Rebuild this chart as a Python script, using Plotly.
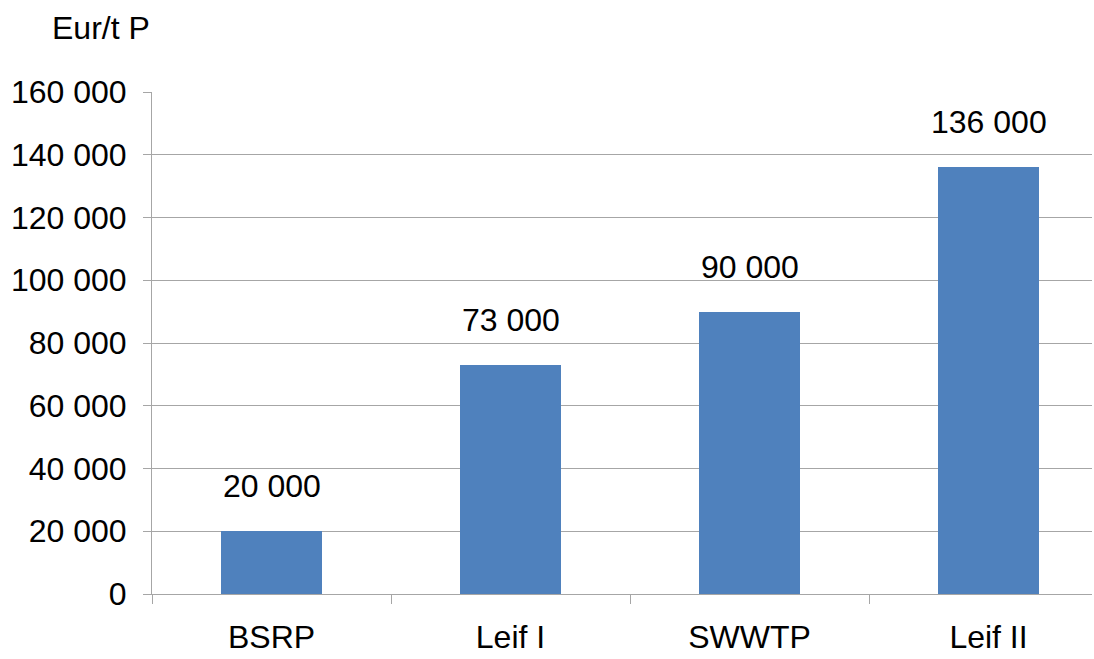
import plotly.graph_objects as go

# Cost per tonne of phosphorus for each treatment option
categories = ["BSRP", "Leif I", "SWWTP", "Leif II"]
values = [20000, 73000, 90000, 136000]
value_labels = ["20 000", "73 000", "90 000", "136 000"]

y_tickvals = [0, 20000, 40000, 60000, 80000, 100000, 120000, 140000, 160000]
y_ticktext = ["0", "20 000", "40 000", "60 000", "80 000", "100 000", "120 000", "140 000", "160 000"]

FONT = "Liberation Sans, Arial, sans-serif"
GRID = "#a6a6a6"
BAR = "#4f81bd"

W, H = 1094, 659
ML, MR, MT, MB = 152, 2, 92, 65

fig = go.Figure()
fig.add_trace(go.Bar(
    x=categories,
    y=values,
    width=0.42,
    marker=dict(color=BAR, line=dict(width=0)),
    hoverinfo="skip",
))

# value labels above each bar
for c, v, t in zip(categories, values, value_labels):
    fig.add_annotation(
        x=c, y=v, xref="x", yref="y",
        text=t, showarrow=False,
        yanchor="middle", yshift=45,
        font=dict(family=FONT, size=32, color="black"),
    )

# unit label above the value axis
fig.add_annotation(
    xref="paper", yref="paper",
    x=(50 - ML) / (W - ML - MR),
    y=1 + (MT - 28) / (H - MT - MB),
    text="Eur/t P", showarrow=False,
    xanchor="left", yanchor="middle",
    font=dict(family=FONT, size=32, color="black"),
)

fig.update_layout(
    width=W, height=H,
    margin=dict(l=ML, r=MR, t=MT, b=MB, autoexpand=False),
    paper_bgcolor="white", plot_bgcolor="white",
    showlegend=False,
    font=dict(family=FONT, size=32, color="black"),
    bargap=0,
)

fig.update_xaxes(
    type="category",
    range=[-0.5, 3.433],
    automargin=False,
    showline=True, linecolor=GRID, linewidth=1,
    ticks="outside", tickson="boundaries", ticklen=9, tickcolor=GRID, tickwidth=1,
    showgrid=False,
    tickfont=dict(family=FONT, size=32, color="black"),
    ticklabelstandoff=15,
)
fig.update_yaxes(
    range=[0, 160000],
    automargin=False,
    tickvals=y_tickvals, ticktext=y_ticktext,
    showline=True, linecolor=GRID, linewidth=1,
    showgrid=True, gridcolor=GRID, gridwidth=1,
    ticks="outside", ticklen=8, tickcolor=GRID, tickwidth=1,
    tickfont=dict(family=FONT, size=32, color="black"),
    ticklabelstandoff=10,
    zeroline=False,
)

fig.write_html("out.html")
